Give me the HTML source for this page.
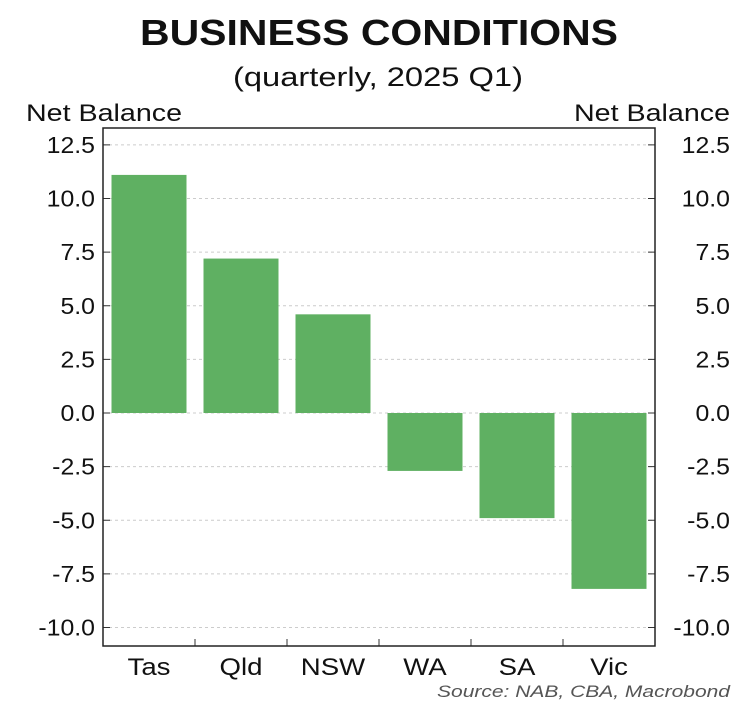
<!DOCTYPE html>
<html><head><meta charset="utf-8"><style>
body{margin:0;background:#fff;}
svg text{font-family:"Liberation Sans",Arial,sans-serif;fill:#111;}
</style></head><body>
<svg width="750" height="705">
<text x="379" y="45" text-anchor="middle" font-size="36" font-weight="bold" textLength="478" lengthAdjust="spacingAndGlyphs">BUSINESS CONDITIONS</text>
<text x="378" y="86" text-anchor="middle" font-size="27" textLength="290" lengthAdjust="spacingAndGlyphs">(quarterly, 2025 Q1)</text>
<text x="26" y="121" font-size="24" textLength="156" lengthAdjust="spacingAndGlyphs">Net Balance</text>
<text x="730" y="121" text-anchor="end" font-size="24" textLength="156" lengthAdjust="spacingAndGlyphs">Net Balance</text>
<g id="grid"></g><g id="bars"></g><g id="axes"></g>
<text x="730" y="697" text-anchor="end" font-size="17" font-style="italic" textLength="293" lengthAdjust="spacingAndGlyphs" style="fill:#555">Source: NAB, CBA, Macrobond</text>
</svg>
<script>
const categories=["Tas","Qld","NSW","WA","SA","Vic"];
const values=[11.1,7.2,4.6,-2.7,-4.9,-8.2];
const ticks=[12.5,10,7.5,5,2.5,0,-2.5,-5,-7.5,-10];
const L=103,R=655,T=128,B=646;
function y(v){return 413-v*21.45;}
const bw=(R-L)/categories.length;
function x(i){return L+i*bw;}
const NS="http://www.w3.org/2000/svg";
function mk(p,tag,a){const e=document.createElementNS(NS,tag);for(const k in a)e.setAttribute(k,a[k]);document.getElementById(p).appendChild(e);return e;}
function widen(t,f){const w=t.getComputedTextLength();t.setAttribute("textLength",w*f);t.setAttribute("lengthAdjust","spacingAndGlyphs");}
ticks.forEach(t=>{
 const g=mk("grid","line",{x1:L,x2:R,y1:y(t),y2:y(t),stroke:"#ccc","stroke-dasharray":"3,3"});
 
 
 mk("axes","line",{x1:L,x2:L+7,y1:y(t),y2:y(t),stroke:"#333"});
 mk("axes","line",{x1:R-7,x2:R,y1:y(t),y2:y(t),stroke:"#333"});
 const lab=t.toFixed(1);
 const a=mk("axes","text",{x:L-8,y:y(t)+8,"text-anchor":"end","font-size":"23"});a.textContent=lab;
 
 
 widen(a,1.08);
 const b=mk("axes","text",{x:730,y:y(t)+8,"text-anchor":"end","font-size":"23"});b.textContent=lab;
 
 
 widen(b,1.08);
});
values.forEach((v,i)=>{
 const r=mk("bars","rect",{x:x(i)+(bw-75)/2,width:75,y:Math.min(y(v),y(0)),height:Math.abs(y(v)-y(0)),fill:"#5fb062"});
 
 
 const c=mk("axes","text",{x:x(i)+bw/2,y:675,"text-anchor":"middle","font-size":"24"});c.textContent=categories[i];
 
 
 widen(c,1.15);
 if(i>0)mk("axes","line",{x1:x(i),x2:x(i),y1:B-7,y2:B,stroke:"#333"});
});
const f=mk("axes","rect",{x:L,y:T,width:R-L,height:B-T,fill:"none",stroke:"#222","stroke-width":"1.5"});


</script>
</body></html>
